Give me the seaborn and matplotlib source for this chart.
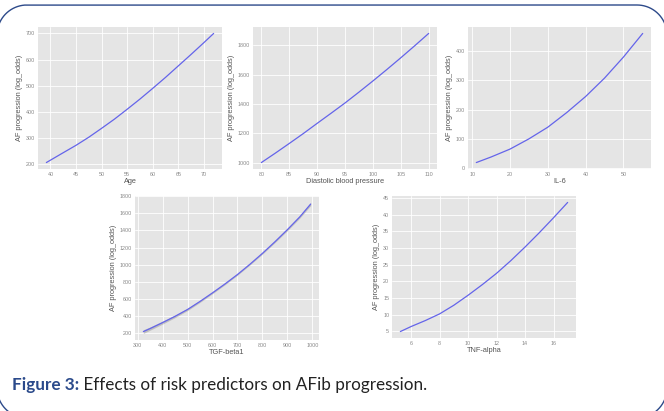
import numpy as np
import pandas as pd
import matplotlib
matplotlib.use("Agg")
import matplotlib.pyplot as plt
import seaborn as sns
from matplotlib.lines import Line2D
from matplotlib.transforms import IdentityTransform

# ---- data ----
age = [39.2, 42, 45, 47.5, 50, 52.5, 55, 57.5, 60, 62.5, 65, 67.5, 70, 71.9]
age_y = [206, 238, 272, 303, 337, 372, 410, 449, 490, 532, 576, 620, 665, 700]

dbp = [80, 82.5, 85, 87.5, 90, 92.5, 95, 97.5, 100, 102.5, 105, 107.5, 110]
dbp_y = [1000, 1064, 1130, 1197, 1267, 1336, 1406, 1480, 1556, 1634, 1714, 1796, 1880]

il6 = [11.1, 15, 20, 25, 30, 35, 40, 45, 50, 55.1]
il6_y = [19, 38, 65, 100, 140, 190, 245, 308, 380, 461]

tgf = [323, 350, 400, 450, 500, 550, 600, 650, 700, 750, 800, 850, 900, 950, 993]
tgf_y = [220, 255, 325, 398, 478, 572, 672, 776, 886, 1006, 1133, 1268, 1410, 1560, 1708]
tgf_lo = [198, 236, 308, 383, 465, 561, 662, 767, 878, 998, 1124, 1258, 1398, 1546, 1690]
tgf_hi = [242, 274, 342, 413, 491, 583, 682, 785, 894, 1014, 1142, 1278, 1422, 1574, 1726]

tnf = [5.25, 6, 7, 8, 9, 10, 11, 12, 13, 14, 15, 16, 16.99]
tnf_y = [4.9, 6.4, 8.2, 10.2, 12.8, 15.8, 19.0, 22.4, 26.2, 30.3, 34.6, 39.1, 43.7]

ylabel = "AF progression (log_odds)"
xlabels = ["Age", "Diastolic blood pressure", "IL-6", "TGF-beta1", "TNF-alpha"]
caption_bold = "Figure 3:"
caption_rest = " Effects of risk predictors on AFib progression."

plt.style.use("ggplot")
sns.set_style("darkgrid", {"axes.facecolor": "#E5E5E5", "grid.color": "white"})
plt.rcParams["font.family"] = ["Liberation Sans", "DejaVu Sans"]

fig = plt.figure(figsize=(6.64, 4.11), dpi=100)
W, H = 664, 411

def pos(x0, x1, y0, y1):
    return [x0 / W, 1 - y1 / H, (x1 - x0) / W, (y1 - y0) / H]

boxes = [
    pos(38, 222, 27, 169),
    pos(253, 437, 27, 169),
    pos(468, 651, 27, 169),
    pos(135, 319, 196, 340),
    pos(392, 576, 196, 338),
]
series = [(age, age_y), (dbp, dbp_y), (il6, il6_y), (tgf, tgf_y), (tnf, tnf_y)]
line_color = "#6464ea"

for i, (b, (xs, ys)) in enumerate(zip(boxes, series)):
    ax = fig.add_axes(b)
    ax.set_facecolor("#E5E5E5")
    if i == 3:
        ax.fill_between(tgf, tgf_lo, tgf_hi, color="#999999", alpha=0.5, lw=0)
    df = pd.DataFrame({"x": xs, "y": ys})
    sns.lineplot(data=df, x="x", y="y", ax=ax, color=line_color, lw=0.9)
    ax.set_xlabel(xlabels[i], fontsize=5.3, color="#555555", labelpad=1)
    ax.set_ylabel(ylabel, fontsize=5.3, color="#555555", labelpad=2)
    ax.tick_params(labelsize=3.9, colors="#888888", length=0, pad=2)
    ax.grid(True, color="white", lw=0.6)
    for s in ax.spines.values():
        s.set_visible(False)

ax = fig.axes[3]
ax.set_yticks(range(200, 1801, 200))
ax.set_xticks(range(300, 1001, 100))
fig.axes[4].set_yticks(range(5, 46, 5))
fig.axes[4].set_xticks(range(6, 17, 2))

# caption
t = fig.text(12 / W, 1 - 390 / H, caption_bold, fontsize=12.3, fontweight="bold",
             color="#2b4a8b", family=["Lato", "DejaVu Sans"], va="baseline")
fig.canvas.draw()
bb = t.get_window_extent()
fig.text(bb.x1 / W, 1 - 390 / H, caption_rest, fontsize=12.3,
         color="#222222", family=["Lato", "DejaVu Sans"], va="baseline")

# rounded decorative frame (pixel coordinates, origin bottom-left)
def rounded_rect(x0, y0, x1, y1, r, n=40):
    pts = []
    corners = [((x1 - r, y1 - r), 0, 90), ((x0 + r, y1 - r), 90, 180),
               ((x0 + r, y0 + r), 180, 270), ((x1 - r, y0 + r), 270, 360)]
    for (cx, cy), a0, a1 in corners:
        th = np.radians(np.linspace(a0, a1, n))
        pts.extend(zip(cx + r * np.cos(th), cy + r * np.sin(th)))
    pts.append(pts[0])
    px, py = zip(*pts)
    return px, py

fx, fy = rounded_rect(-3, -7, W + 3, H - 5, 30)
fig.add_artist(Line2D(fx, fy, transform=IdentityTransform(),
                      color="#2d4a8a", lw=1.0))

fig.savefig("out.png", dpi=100)
